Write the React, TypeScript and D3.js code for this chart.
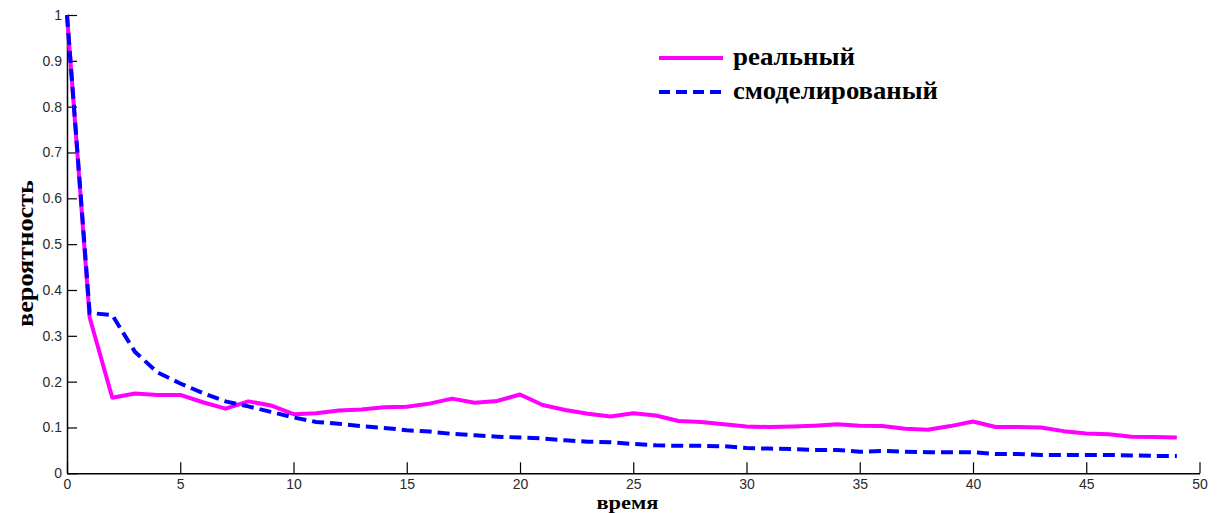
import { useRef, useEffect } from "react";
import * as d3 from "d3";

// time steps 0..49
const times = d3.range(0, 50);

// "реальный" series (magenta, solid)
const realValues = [
  1.0, 0.34, 0.165, 0.174, 0.171, 0.171, 0.155, 0.141, 0.157, 0.148,
  0.129, 0.131, 0.137, 0.139, 0.144, 0.145, 0.152, 0.163, 0.154, 0.158,
  0.172, 0.149, 0.138, 0.13, 0.124, 0.131, 0.126, 0.114, 0.112, 0.107,
  0.102, 0.101, 0.102, 0.104, 0.107, 0.104, 0.103, 0.097, 0.095, 0.103,
  0.113, 0.101, 0.101, 0.1, 0.092, 0.087, 0.085, 0.08, 0.079, 0.078,
];

// "смоделированый" series (blue, dashed)
const modelValues = [
  1.0, 0.35, 0.345, 0.265, 0.22, 0.196, 0.175, 0.157, 0.146, 0.134,
  0.122, 0.112, 0.108, 0.103, 0.099, 0.094, 0.091, 0.086, 0.083, 0.08,
  0.078, 0.076, 0.072, 0.069, 0.068, 0.064, 0.061, 0.06, 0.06, 0.059,
  0.055, 0.054, 0.053, 0.051, 0.051, 0.047, 0.049, 0.047, 0.046, 0.046,
  0.046, 0.042, 0.042, 0.04, 0.04, 0.04, 0.04, 0.039, 0.038, 0.038,
];

const xTicks = [0, 5, 10, 15, 20, 25, 30, 35, 40, 45, 50];
const yTicks = [0, 0.1, 0.2, 0.3, 0.4, 0.5, 0.6, 0.7, 0.8, 0.9, 1];
const legendLabels = ["реальный", "смоделированый"];

const serif = "'Liberation Serif', 'Times New Roman', serif";

const App = () => {
  const svgRef = useRef<SVGSVGElement>(null);
  const width = 1219;
  const height = 513;

  useEffect(() => {
    document.body.style.margin = "0";
    const svg = d3.select(svgRef.current);
    svg.selectAll("*").remove();

    // Scales
    const xScale = d3.scaleLinear().domain([0, 50]).range([67, 1199.5]);
    const yScale = d3.scaleLinear().domain([0, 1]).range([473.3, 15]);

    // Axes, ticks pointing inward
    const xAxis = d3
      .axisBottom(xScale)
      .tickValues(xTicks)
      .tickSizeInner(-11)
      .tickSizeOuter(0)
      .tickPadding(6)
      .tickFormat((d) => String(d));
    const yAxis = d3
      .axisLeft(yScale)
      .tickValues(yTicks)
      .tickSizeInner(-10)
      .tickSizeOuter(0)
      .tickPadding(5)
      .tickFormat((d) => String(d));

    const gx = svg
      .append("g")
      .attr("transform", `translate(0, ${yScale(0)})`)
      .call(xAxis);
    const gy = svg
      .append("g")
      .attr("transform", `translate(${xScale(0)}, 0)`)
      .call(yAxis);

    [gx, gy].forEach((g) => {
      g.select(".domain").attr("stroke", "#000").attr("stroke-width", 1.5);
      g.selectAll(".tick line").attr("stroke", "#000").attr("stroke-width", 1.2);
      g.selectAll(".tick text")
        .attr("fill", "#2a2a2a")
        .attr("font-family", "Arial, 'Liberation Sans', sans-serif")
        .attr("font-size", "14px");
    });

    // Lines
    const line = d3
      .line<number>()
      .x((d, i) => xScale(times[i]))
      .y((d) => yScale(d));

    svg
      .append("path")
      .datum(realValues)
      .attr("d", line)
      .attr("fill", "none")
      .attr("stroke", "#ff00ff")
      .attr("stroke-width", 4)
      .attr("stroke-linejoin", "round");

    svg
      .append("path")
      .datum(modelValues)
      .attr("d", line)
      .attr("fill", "none")
      .attr("stroke", "#0000ff")
      .attr("stroke-width", 4)
      .attr("stroke-dasharray", "12,6");

    // Axis labels
    svg
      .append("text")
      .attr("x", 627.5)
      .attr("y", 509)
      .attr("text-anchor", "middle")
      .attr("font-family", serif)
      .attr("font-weight", "bold")
      .attr("font-size", "19px")
      .attr("textLength", 62)
      .attr("lengthAdjust", "spacingAndGlyphs")
      .text("время");
    svg
      .append("text")
      .attr("transform", "translate(33, 253.5) rotate(-90)")
      .attr("text-anchor", "middle")
      .attr("font-family", serif)
      .attr("font-weight", "bold")
      .attr("font-size", "23px")
      .attr("textLength", 147)
      .attr("lengthAdjust", "spacingAndGlyphs")
      .text("вероятность");

    // Legend
    const legend = svg.append("g");
    const styles = [
      { stroke: "#ff00ff", dash: null, y: 58, len: 122 },
      { stroke: "#0000ff", dash: "11,6", y: 92, len: 205 },
    ];
    legendLabels.forEach((label, i) => {
      legend
        .append("line")
        .attr("x1", 659)
        .attr("x2", 723)
        .attr("y1", styles[i].y)
        .attr("y2", styles[i].y)
        .attr("stroke", styles[i].stroke)
        .attr("stroke-width", 4)
        .attr("stroke-dasharray", styles[i].dash);
      legend
        .append("text")
        .attr("x", 733)
        .attr("y", styles[i].y + 7)
        .attr("font-family", serif)
        .attr("font-weight", "bold")
        .attr("font-size", "25px")
        .attr("textLength", styles[i].len)
        .attr("lengthAdjust", "spacingAndGlyphs")
        .text(label);
    });
  }, []);

  return (
    <svg
      ref={svgRef}
      width={width}
      height={height}
      style={{ display: "block", background: "#fff" }}
    ></svg>
  );
};

export default App;
